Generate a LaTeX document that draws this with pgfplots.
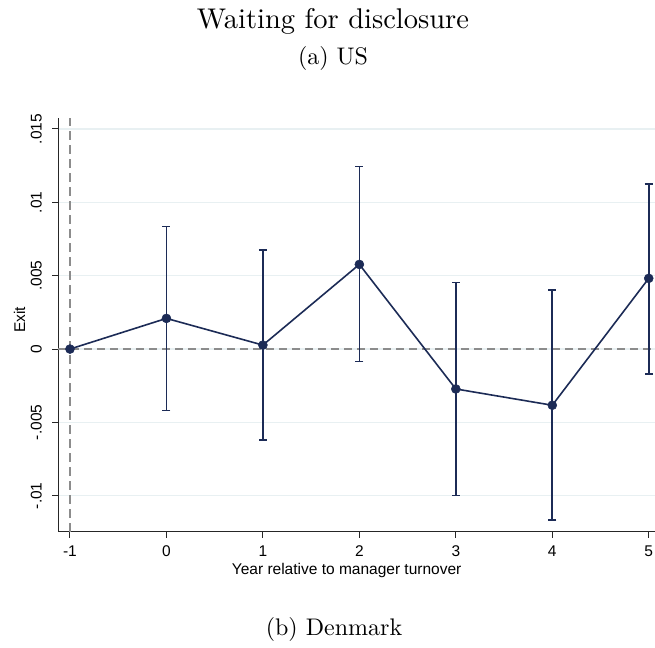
\documentclass[border=0pt]{standalone}
\usepackage{fontspec}
\newfontfamily\arial{Liberation Sans}
\newfontfamily\lmten{lmroman10-regular}[Extension=.otf]
\usepackage{pgfplots}
\pgfplotsset{compat=1.18}

\definecolor{statanavy}{RGB}{28,43,86}
\definecolor{gridc}{RGB}{232,240,242}
\definecolor{refgray}{RGB}{140,140,140}

\begin{document}
\begin{tikzpicture}
\path[use as bounding box] (0,0) rectangle (655pt,647pt);

% titles
\node[anchor=base] at (333pt,618pt) {\lmten\fontsize{28.5}{32}\selectfont Waiting for disclosure};
\node[anchor=base] at (333pt,582pt) {\lmten\fontsize{24}{28}\selectfont (a) US};
\node[anchor=base] at (334pt,11pt) {\lmten\fontsize{24}{28}\selectfont (b) Denmark};

\begin{axis}[
  at={(58.3pt,115pt)}, anchor=south west,
  scale only axis,
  width=596.7pt, height=413.7pt,
  xmin=-1.121, xmax=5.065,
  ymin=-0.01247, ymax=0.01573,
  axis lines=left,
  axis line style={-, line width=1pt, black!85},
  tick align=outside,
  major tick length=6pt,
  tick style={line width=1pt, black!85},
  xtick={-1,0,...,5},
  xticklabels={-1,0,1,2,3,4,5},
  ytick={-0.01,-0.005,0,0.005,0.01,0.015},
  yticklabels={-.01,-.005,0,.005,.01,.015},
  scaled y ticks=false,
  ticklabel style={font=\arial\fontsize{15.5}{17}\selectfont},
  xticklabel style={anchor=base, inner sep=0pt, yshift=-18pt},
  yticklabel style={xshift=-10.6pt, rotate=90, anchor=base, inner sep=0pt},
  ymajorgrids=true,
  grid style={gridc, line width=1.2pt},
  xlabel={Year relative to manager turnover},
  ylabel={Exit},
  label style={font=\arial\fontsize{15.5}{17}\selectfont},
  xlabel style={at={(axis description cs:0.2906,-0.1039)}, anchor=base west, inner sep=0pt},
  ylabel style={at={(axis description cs:-0.0558,0.5125)}, anchor=base, inner sep=0pt},
  clip=false
]

% reference lines
\addplot[refgray, line width=1.2pt, dash pattern=on 8pt off 5pt] coordinates {(-1.121,0) (5.065,0)};
\addplot[refgray, line width=1.2pt, dash pattern=on 9pt off 5pt] coordinates {(-1,-0.01247) (-1,0.01573)};

% estimates with 95% CI
\addplot[statanavy, line width=1.6pt, mark=*, mark size=4.5pt,
  mark options={solid, fill=statanavy, line width=0.5pt},
  error bars/.cd, y dir=both, y explicit,
  error mark=-, error bar style={line width=1.6pt, solid, statanavy},
  error mark options={rotate=90, line width=1.6pt, mark size=4pt, statanavy}]
coordinates {
  (-1,0)        += (0,0)       -= (0,0)
  (0,0.00209)   += (0,0.00627) -= (0,0.00628)
  (1,0.00027)   += (0,0.00650) -= (0,0.00645)
  (2,0.00577)   += (0,0.00668) -= (0,0.00663)
  (3,-0.00272)  += (0,0.00725) -= (0,0.00727)
  (4,-0.00383)  += (0,0.00784) -= (0,0.00783)
  (5,0.00482)   += (0,0.00645) -= (0,0.00650)
};

\end{axis}
\end{tikzpicture}
\end{document}
